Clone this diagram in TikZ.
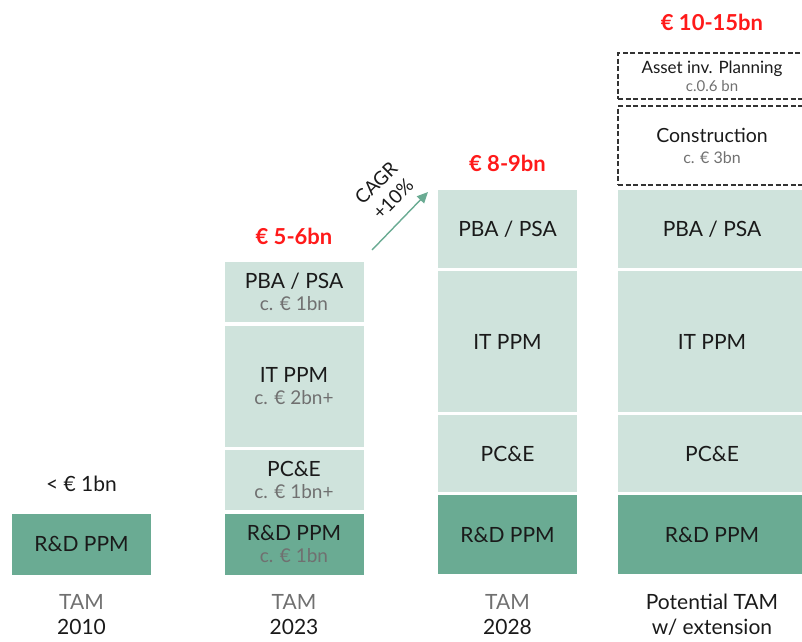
\documentclass[tikz,border=0pt]{standalone}
\usepackage{fontspec}
\setmainfont{Lato}
\usetikzlibrary{arrows.meta}
\definecolor{dkg}{HTML}{6AAB93}
\definecolor{ltg}{HTML}{CFE3DC}
\definecolor{txt}{HTML}{1A1A1A}
\definecolor{sub}{HTML}{707070}
\definecolor{redt}{HTML}{FF1A1A}
\begin{document}
\begin{tikzpicture}[x=1pt,y=-1pt,
  dkbox/.style={fill=dkg,draw=none,inner sep=0pt,align=center,text=txt,font=\fontsize{21}{23}\selectfont},
  ltbox/.style={fill=ltg,draw=none,inner sep=0pt,align=center,text=txt,font=\fontsize{21}{23}\selectfont},
  dbox/.style={draw=black!80,dash pattern=on 5pt off 2.5pt,line width=1.7pt,inner sep=0pt,align=center,text=txt},
  total/.style={text=redt,font=\fontsize{22}{24}\selectfont\bfseries},
  tamlbl/.style={align=center,font=\fontsize{21}{25}\selectfont},
  cagr/.style={rotate=45,inner sep=0pt,text=txt,font=\fontsize{19}{21}\selectfont}]
\useasboundingbox (0,0) rectangle (802,641);
\newcommand{\sv}[1]{\\[-1pt]{\color{sub}\fontsize{19}{21}\selectfont #1}}
% column 1
\node[dkbox,minimum width=139,minimum height=61] (a1) at (81.5,544) {R\&D PPM};
\node[text=txt,font=\fontsize{21}{23}\selectfont] (t1) at (81.5,484) {< € 1bn};
% column 2
\node[dkbox,minimum width=139,minimum height=61] (b1) at (294,544) {R\&D PPM\sv{c. € 1bn}};
\node[ltbox,minimum width=139,minimum height=60] (b2) at (294,480) {PC\&E\sv{c. € 1bn+}};
\node[ltbox,minimum width=139,minimum height=121] (b3) at (294,386.5) {IT PPM\sv{c. € 2bn+}};
\node[ltbox,minimum width=139,minimum height=60] (b4) at (294,292) {PBA / PSA\sv{c. € 1bn}};
\node[total] (t2) at (294,236) {€ 5-6bn};
% column 3
\node[dkbox,minimum width=139,minimum height=79] (c1) at (507.5,534.5) {R\&D PPM};
\node[ltbox,minimum width=139,minimum height=77] (c2) at (507.5,453.5) {PC\&E};
\node[ltbox,minimum width=139,minimum height=141] (c3) at (507.5,341.5) {IT PPM};
\node[ltbox,minimum width=139,minimum height=78] (c4) at (507.5,229) {PBA / PSA};
\node[total] (t3) at (507.5,163) {€ 8-9bn};
% column 4
\node[dkbox,minimum width=188,minimum height=79] (d1) at (712,534.5) {R\&D PPM};
\node[ltbox,minimum width=188,minimum height=77] (d2) at (712,453.5) {PC\&E};
\node[ltbox,minimum width=188,minimum height=141] (d3) at (712,341.5) {IT PPM};
\node[ltbox,minimum width=188,minimum height=78] (d4) at (712,229) {PBA / PSA};
\node[dbox,minimum width=188,minimum height=79,font=\fontsize{19.5}{22}\selectfont] (d5) at (712,145.5) {Construction\\[-1pt]{\color{sub}\fontsize{16}{18}\selectfont c. € 3bn}};
\node[dbox,minimum width=188,minimum height=46,font=\fontsize{17}{18}\selectfont] (d6) at (712,76) {Asset inv. Planning\\[0pt]{\color{sub}\fontsize{15}{16}\selectfont c.0.6 bn}};
\node[total] (t4) at (712,22) {€ 10-15bn};
% CAGR arrow
\coordinate (ar1) at (372,250);
\coordinate (ar2) at (428,192);
\draw[dkg,line width=1.4pt,-{Triangle[length=11pt,width=10pt]}] (ar1) -- (ar2);
\node[cagr] (cg1) at (376,183) {CAGR};
\node[cagr] (cg2) at (393,199) {+10\%};
% bottom labels
\node[tamlbl] (l1) at (81.5,615) {{\color{sub}TAM}\\{\color{txt}2010}};
\node[tamlbl] (l2) at (294,615) {{\color{sub}TAM}\\{\color{txt}2023}};
\node[tamlbl] (l3) at (507.5,615) {{\color{sub}TAM}\\{\color{txt}2028}};
\node[tamlbl,text=txt] (l4) at (712,615) {Potential TAM\\w/ extension};
\end{tikzpicture}
\end{document}
